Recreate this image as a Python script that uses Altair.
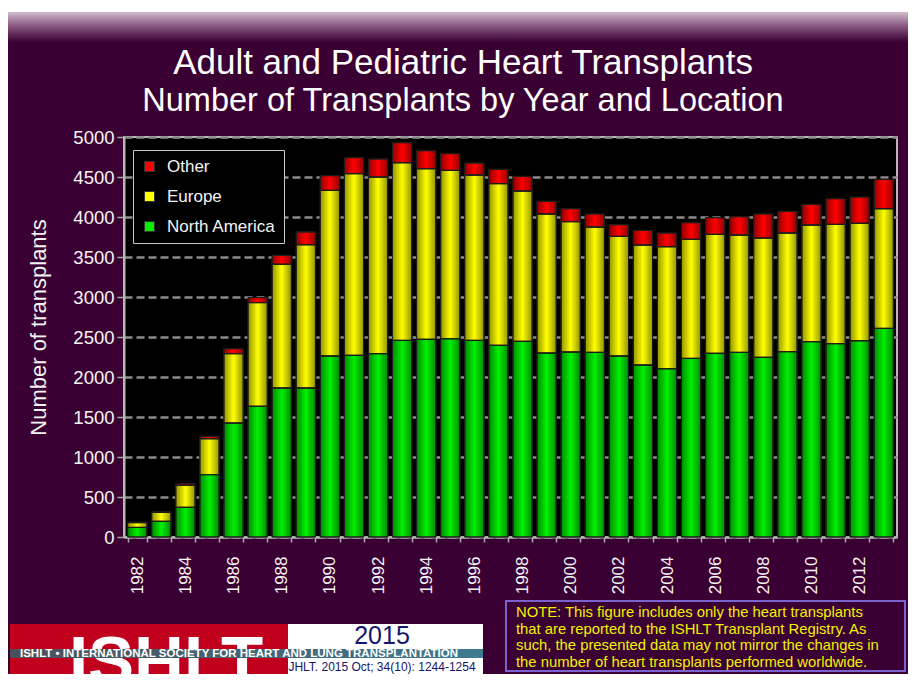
import altair as alt
import pandas as pd

# ---------------- data ----------------
years = list(range(1982, 2014))
north_america = [120, 196, 371, 780, 1425, 1634, 1863, 1863, 2263, 2271, 2292, 2458,
                 2471, 2479, 2458, 2396, 2446, 2300, 2313, 2308, 2263, 2150, 2104, 2233,
                 2296, 2308, 2246, 2317, 2442, 2417, 2454, 2608]
europe = [60, 113, 275, 449, 867, 1296, 1546, 1791, 2070, 2271, 2208, 2221,
          2133, 2104, 2067, 2021, 1879, 1738, 1629, 1567, 1495, 1500, 1525, 1488,
          1487, 1467, 1492, 1483, 1458, 1491, 1467, 1496]
other = [5, 6, 21, 30, 62, 62, 112, 159, 184, 200, 225, 250,
         225, 209, 150, 179, 183, 158, 162, 163, 146, 183, 171, 208,
         209, 229, 300, 271, 258, 321, 329, 367]
regions = ["Other", "Europe", "North America"]
region_colors = ["#ff0000", "#ffff00", "#00f000"]
y_ticks = [0, 500, 1000, 1500, 2000, 2500, 3000, 3500, 4000, 4500, 5000]

title_lines = ["Adult and Pediatric Heart Transplants",
               "Number of Transplants by Year and Location"]
y_title = "Number of transplants"
note_lines = ["NOTE: This figure includes only the heart transplants",
              "that are reported to the ISHLT Transplant Registry. As",
              "such, the presented data may not mirror the changes in",
              "the number of heart transplants performed worldwide."]
logo_word = "ISHLT"
logo_band = "ISHLT \u2022 INTERNATIONAL SOCIETY FOR HEART AND LUNG TRANSPLANTATION"
logo_year = "2015"
logo_ref = "JHLT. 2015 Oct; 34(10): 1244-1254"

# ---------------- table ----------------
rows = []
for i, yr in enumerate(years):
    rows.append({"Year": yr, "Region": "North America", "Count": north_america[i], "ord": 0})
    rows.append({"Year": yr, "Region": "Europe", "Count": europe[i], "ord": 1})
    rows.append({"Year": yr, "Region": "Other", "Count": other[i], "ord": 2})
df = pd.DataFrame(rows)

FONT = "Liberation Sans"
BG = "#3b0033"

x_enc = alt.X(
    "Year:O",
    scale=alt.Scale(paddingInner=0.2, paddingOuter=0.15),
    axis=alt.Axis(
        title=None, labelAngle=270, labelAlign="right", labelBaseline="middle",
        labelExpr="datum.value % 2 == 0 ? datum.label : ''",
        labelOverlap=False, tickBand="extent",
        labelColor="#f4f4f4", labelFontSize=17, labelFont=FONT, labelPadding=14,
        tickSize=5, tickColor="#a8a8a8", tickWidth=1.5,
        domainColor="#b8b8b8", domainWidth=2, grid=False,
    ),
)
y_enc = alt.Y(
    "Count:Q",
    stack="zero",
    scale=alt.Scale(domain=[0, 5000], nice=False),
    axis=alt.Axis(
        values=y_ticks, format="d", title=y_title, titleColor="#f4f4f4", titleFontSize=22,
        titleFont=FONT, titleFontWeight="normal", titleAngle=270,
        titleX=-86, titleY=190, titleBaseline="middle", titleAlign="center",
        labelColor="#f4f4f4", labelFontSize=18.5, labelFont=FONT, labelPadding=3,
        tickSize=7, tickColor="#a8a8a8", tickWidth=1.5,
        domainColor="#b8b8b8", domainWidth=2,
        grid=True, gridColor="#8c8c8c", gridDash=[8, 4], gridWidth=2.5,
    ),
)

bars = alt.Chart(df).mark_bar(stroke="#1e1e1e", strokeWidth=1).encode(
    x=x_enc,
    y=y_enc,
    color=alt.Color(
        "Region:N",
        scale=alt.Scale(domain=regions, range=region_colors),
        legend=alt.Legend(
            title=None, orient="none", legendX=9, legendY=13,
            fillColor="black", strokeColor="#c8c8c8", padding=8, rowPadding=12,
            symbolType="square", symbolSize=100, symbolStrokeColor="#333333",
            symbolStrokeWidth=1, labelColor="#f4f4f4", labelFontSize=17,
            labelFont=FONT, labelOffset=9,
        ),
    ),
    order=alt.Order("ord:Q"),
)

shade_grad = alt.Gradient(
    gradient="linear", x1=0, x2=1, y1=0, y2=0,
    stops=[alt.GradientStop(color="rgba(0,0,0,0.42)", offset=0),
           alt.GradientStop(color="rgba(0,0,0,0)", offset=0.5),
           alt.GradientStop(color="rgba(0,0,0,0.42)", offset=1)],
)
shade = alt.Chart(df).mark_bar(fill=shade_grad, stroke="#1e1e1e", strokeWidth=1).encode(
    x=x_enc, y=y_enc, detail="Region:N", order=alt.Order("ord:Q"),
)

one = pd.DataFrame({"k": [0]})


def rect(x, x2, y, y2, **kw):
    return alt.Chart(one).mark_rect(**kw).encode(
        x=alt.value(x), x2=alt.value(x2), y=alt.value(y), y2=alt.value(y2))


def label(txt, x, y, **kw):
    return alt.Chart(one).mark_text(text=txt, font=FONT, **kw).encode(
        x=alt.value(x), y=alt.value(y))


top_grad = alt.Gradient(
    gradient="linear", x1=0, x2=0, y1=0, y2=1,
    stops=[alt.GradientStop(color="#d2bccd", offset=0),
           alt.GradientStop(color="#8a5a82", offset=0.45),
           alt.GradientStop(color=BG, offset=1)],
)
band_grad = alt.Gradient(
    gradient="linear", x1=0, x2=1, y1=0, y2=0,
    stops=[alt.GradientStop(color="#4b4f5a", offset=0),
           alt.GradientStop(color="#3f7b90", offset=1)],
)

deco = [
    rect(-116, 784, -129, -125, fill="white"),
    rect(-116, 784, -125, -95, fill=top_grad),
    label(title_lines[0], 339, -63, fontSize=35, color="white", align="center",
          baseline="alphabetic"),
    label(title_lines[1], 339, -26, fontSize=32.5, color="white", align="center",
          baseline="alphabetic"),
    rect(-114, 164, 487, 537, fill="#c0001c"),
    label(logo_word, 42, 547, fontSize=69, fontWeight="bold", color="white",
          align="center", baseline="alphabetic"),
    rect(164, 359, 487, 512, fill="white"),
    rect(164, 359, 521, 537, fill="white"),
    rect(-114, 359, 512, 521, fill=band_grad),
    label(logo_band, -104, 516.5, fontSize=11.5, fontWeight="bold", color="white",
          align="left", baseline="middle"),
    label(logo_year, 258, 507, fontSize=25, color="#15156a", align="center",
          baseline="alphabetic"),
    label(logo_ref, 258, 534, fontSize=12, color="#15156a", align="center",
          baseline="alphabetic"),
    rect(382, 781, 464, 534, fill=BG, stroke="#7a63cf", strokeWidth=2),
    label(note_lines, 392, 468, fontSize=14.8, color="#f2f200", align="left",
          baseline="top", lineHeight=16.5),
]

chart = alt.layer(bars, shade, *deco).properties(
    width=773,
    height=400,
    autosize=alt.AutoSizeParams(type="none"),
    padding={"left": 116, "top": 129, "right": 11, "bottom": 137},
    background=BG,
).configure_view(fill="black", stroke="#b8b8b8", strokeWidth=2)

chart.save("out.html", embed_options={"renderer": "svg", "actions": False})
